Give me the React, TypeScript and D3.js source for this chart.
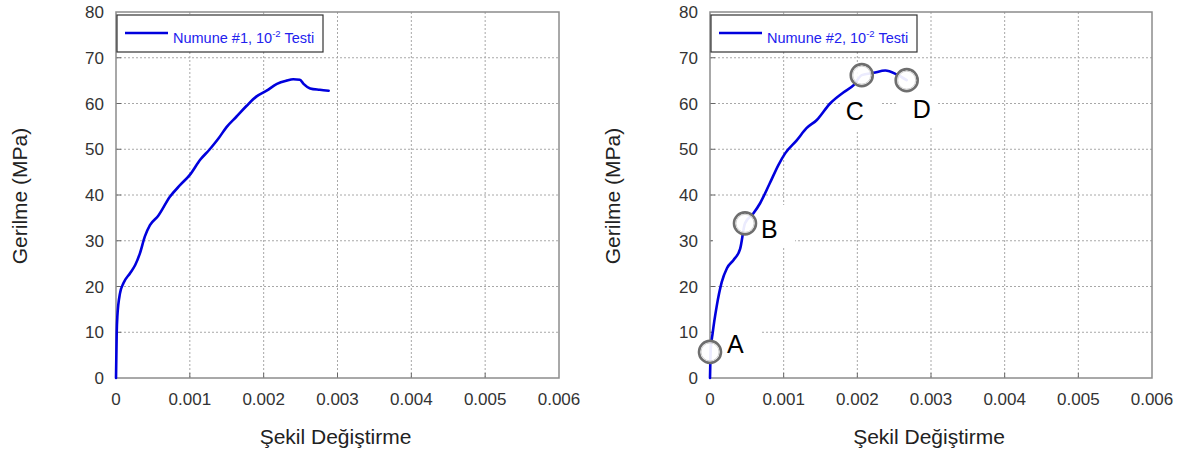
import React from "react";
import * as d3 from "d3";

// ---- Data ----
const strain1 = [0, 0.0000095, 0.000018, 0.000054, 0.0001, 0.00019, 0.00026, 0.000325, 0.00039, 0.00046, 0.00057, 0.00073, 0.00087, 0.001, 0.00114, 0.00127, 0.00139, 0.0015, 0.00163, 0.00177, 0.0019, 0.00204, 0.00218, 0.00231, 0.0024, 0.00249, 0.00254, 0.00263, 0.00276, 0.00288];
const stress1 = [0, 9.8, 13.4, 18.5, 20.7, 22.9, 24.7, 27.3, 30.9, 33.4, 35.4, 39.6, 42.2, 44.4, 47.7, 50.0, 52.4, 54.9, 57.1, 59.5, 61.5, 62.8, 64.3, 65.0, 65.3, 65.2, 64.3, 63.3, 63.0, 62.8];

const strain2 = [0, 0.00001, 0.000036, 0.00009, 0.00016, 0.00023, 0.00032, 0.00041, 0.000475, 0.00059, 0.00068, 0.00081, 0.00093, 0.00102, 0.00118, 0.00131, 0.00145, 0.00163, 0.00181, 0.00195, 0.00206, 0.00222, 0.00238, 0.00253, 0.00267];
const stress2 = [0, 6.1, 9.8, 15.6, 21.0, 24.0, 25.8, 28.3, 33.8, 36.0, 38.2, 42.5, 46.6, 49.1, 52.0, 54.6, 56.4, 60.0, 62.4, 64.0, 66.2, 66.7, 67.2, 66.4, 65.1];

const markerLabels = ["A", "B", "C", "D"];
const markerStrain = [0.0, 0.000475, 0.00206, 0.00267];
const markerStress = [5.7, 33.8, 66.2, 65.1];

const xTicks = [0, 0.001, 0.002, 0.003, 0.004, 0.005, 0.006];
const xTickLabels = ["0", "0.001", "0.002", "0.003", "0.004", "0.005", "0.006"];
const yTicks = [0, 10, 20, 30, 40, 50, 60, 70, 80];

const legend1 = "Numune #1, 10";
const legend2 = "Numune #2, 10";
const xTitle = "Şekil Değiştirme";
const yTitle = "Gerilme (MPa)";

const FONT = "'Liberation Sans', Arial, Helvetica, sans-serif";
const BLUE = "#0000dd";

type PanelProps = {
  x0: number; x1: number; y0: number; y1: number;
  xs: number[]; ys: number[]; legend: string;
  yTitleX: number; markers?: boolean;
};

function Panel({ x0, x1, y0, y1, xs, ys, legend, yTitleX, markers }: PanelProps) {
  const x = d3.scaleLinear().domain([0, 0.006]).range([x0, x1]);
  const y = d3.scaleLinear().domain([0, 80]).range([y1, y0]);
  const pts: [number, number][] = xs.map((v, i) => [v, ys[i]]);
  const line = d3.line<[number, number]>()
    .x(d => x(d[0])).y(d => y(d[1]))
    .curve(d3.curveMonotoneX);

  const patches = markers ? [
    { x: 713, y: 322, w: 49, h: 40 },
    { x: 713, y: 205, w: 82, h: 43 },
    { x: 840, y: 88, w: 40, h: 42 },
    { x: 897, y: 88, w: 40, h: 40 },
  ] : [];
  const labelOffsets = [
    { dx: 17, base: 353 },
    { dx: 16, base: 238 },
    { dx: -16, base: 120 },
    { dx: 6, base: 118 },
  ];

  return (
    <g>
      {/* grid */}
      {xTicks.slice(1, -1).map(t => (
        <line key={"gx" + t} x1={x(t)} x2={x(t)} y1={y0} y2={y1}
          stroke="#a8a8a8" strokeWidth={1} strokeDasharray="2,2" />
      ))}
      {yTicks.slice(1, -1).map(t => (
        <line key={"gy" + t} x1={x0} x2={x1} y1={y(t)} y2={y(t)}
          stroke="#a8a8a8" strokeWidth={1} strokeDasharray="2,2" />
      ))}
      {/* ticks */}
      {xTicks.slice(1, -1).map(t => (
        <line key={"tx" + t} x1={x(t)} x2={x(t)} y1={y1} y2={y1 - 5} stroke="#666" strokeWidth={1} />
      ))}
      {yTicks.slice(1, -1).map(t => (
        <line key={"ty" + t} x1={x0} x2={x0 + 5} y1={y(t)} y2={y(t)} stroke="#666" strokeWidth={1} />
      ))}
      {/* white patches behind marker labels */}
      {patches.map((p, i) => (
        <rect key={"p" + i} x={p.x} y={p.y} width={p.w} height={p.h} fill="#fff" />
      ))}
      {/* frame */}
      <rect x={x0} y={y0} width={x1 - x0} height={y1 - y0} fill="none" stroke="#8c8c8c" strokeWidth={1.5} />
      {/* tick labels */}
      {xTicks.map((t, i) => (
        <text key={"lx" + t} x={x(t)} y={405} textAnchor="middle" fontFamily={FONT} fontSize={17} fill="#333">
          {xTickLabels[i]}
        </text>
      ))}
      {yTicks.map(t => (
        <text key={"ly" + t} x={x0 - 12} y={y(t) + 6} textAnchor="end" fontFamily={FONT} fontSize={17} fill="#333">
          {t}
        </text>
      ))}
      {/* titles */}
      <text x={(x0 + x1) / 2 - 2} y={444} textAnchor="middle" fontFamily={FONT} fontSize={21} fill="#222">{xTitle}</text>
      <text transform={`translate(${yTitleX},${196}) rotate(-90)`} textAnchor="middle" fontFamily={FONT} fontSize={21} fill="#222">{yTitle}</text>
      {/* curve */}
      <path d={line(pts) || ""} fill="none" stroke={BLUE} strokeWidth={2.6} strokeLinejoin="round" strokeLinecap="round" />
      {/* markers */}
      {markers && markerLabels.map((lab, i) => {
        const cx = x(markerStrain[i]);
        const cy = y(markerStress[i]);
        const o = labelOffsets[i];
        return (
          <g key={"m" + lab}>
            <circle cx={cx} cy={cy} r={11} fill="#fff" fillOpacity={0.92} stroke="#6e6e6e" strokeWidth={2.6} />
            <circle cx={cx} cy={cy} r={9} fill="none" stroke="#d0d0d0" strokeWidth={1} />
            <text x={cx + o.dx} y={o.base} textAnchor="start" fontFamily={FONT} fontSize={25} fill="#000">{lab}</text>
          </g>
        );
      })}
      {/* legend */}
      <rect x={x0 + 1} y={15} width={206} height={37} fill="#fff" stroke="#333" strokeWidth={1.2} />
      <line x1={x0 + 9} x2={x0 + 52} y1={33} y2={33} stroke={BLUE} strokeWidth={2.6} />
      <text x={x0 + 57} y={43} fontFamily={FONT} fontSize={14.5} fill="#2222ee">
        {legend}
        <tspan fontSize={9.5} dy={-6}>-2</tspan>
        <tspan dy={6}> Testi</tspan>
      </text>
    </g>
  );
}

export default function App() {
  return (
    <svg width={1184} height={450} style={{ position: "absolute", left: 0, top: 0, background: "#fff" }}>
      <rect x={0} y={0} width={1184} height={450} fill="#fff" />
      <Panel x0={116} x1={559} y0={12} y1={378} xs={strain1} ys={stress1} legend={legend1} yTitleX={27} />
      <Panel x0={710} x1={1152} y0={12} y1={378} xs={strain2} ys={stress2} legend={legend2} yTitleX={620} markers />
    </svg>
  );
}
